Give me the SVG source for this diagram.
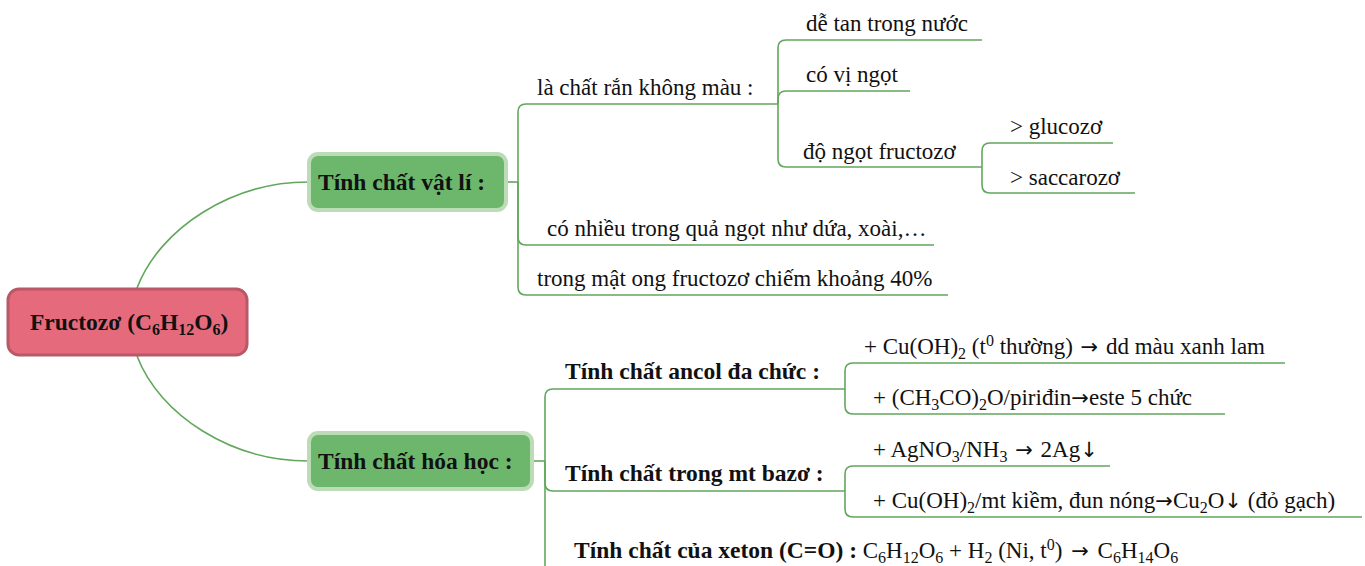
<svg xmlns="http://www.w3.org/2000/svg" width="1365" height="566" viewBox="0 0 1365 566">
  <style>
    .t { font-family: "Liberation Serif", "Times New Roman", serif; font-size: 23px; fill: #111; }
    .b { font-weight: bold; font-size: 23.5px; }
    .s { font-size: 16px; }
    .a { font-family: "DejaVu Sans", sans-serif; font-size: 21px; }
    .link { fill: none; stroke: #62a75c; stroke-width: 1.6; }
  </style>
  <rect width="1365" height="566" fill="#ffffff"/>

  <!-- connectors -->
  <g id="connectors" class="link">
    <!-- root to main topics -->
    <path d="M137,288 C160,228 232,182 308,182"/>
    <path d="M137,356 C160,416 232,461 308,461"/>
    <!-- physical properties -->
    <path d="M507,182 H518"/>
    <path d="M518,182 V112 Q518,104 526,104 H778"/>
    <path d="M518,182 V237 Q518,245 526,245 H934"/>
    <path d="M518,182 V287 Q518,295 526,295 H948"/>
    <!-- colourless solid -->
    <path d="M778,104 V48 Q778,40 786,40 H982"/>
    <path d="M778,104 V99 Q778,91 786,91 H910"/>
    <path d="M778,104 V159 Q778,167 786,167 H982"/>
    <!-- sweetness -->
    <path d="M982,167 V151 Q982,143 990,143 H1113"/>
    <path d="M982,167 V185 Q982,193 990,193 H1135"/>
    <!-- chemical properties -->
    <path d="M533,461 H545"/>
    <path d="M545,461 V397 Q545,389 553,389 H845"/>
    <path d="M545,461 V483 Q545,491 553,491 H845"/>
    <path d="M545,461 V580"/>
    <!-- polyol -->
    <path d="M845,389 V371 Q845,363 853,363 H1285"/>
    <path d="M845,389 V406 Q845,414 853,414 H1225"/>
    <!-- basic medium -->
    <path d="M845,491 V474 Q845,466 853,466 H1110"/>
    <path d="M845,491 V509 Q845,517 853,517 H1362"/>
  </g>

  <!-- root -->
  <g id="root">
    <rect x="8" y="289" width="239" height="66" rx="11" fill="#e56b7c" stroke="#b85868" stroke-width="3"/>
    <text class="t b" x="30" y="330">Fructozơ (C<tspan class="s" dy="5">6</tspan><tspan dy="-5">H</tspan><tspan class="s" dy="5">12</tspan><tspan dy="-5">O</tspan><tspan class="s" dy="5">6</tspan><tspan dy="-5">)</tspan></text>
  </g>

  <!-- main topics -->
  <g id="physical">
    <rect x="309" y="154" width="197" height="56" rx="9" fill="#6cb76c" stroke="#bcdcb8" stroke-width="4"/>
    <text class="t b" x="318" y="190">Tính chất vật lí :</text>
  </g>
  <g id="chemical">
    <rect x="309" y="433" width="223" height="56" rx="9" fill="#6cb76c" stroke="#bcdcb8" stroke-width="4"/>
    <text class="t b" x="318" y="469">Tính chất hóa học :</text>
  </g>

  <!-- physical properties -->
  <g id="solid"><text class="t" x="537" y="95">là chất rắn không màu :</text></g>
  <g id="soluble"><text class="t" x="806" y="31">dễ tan trong nước</text></g>
  <g id="sweet"><text class="t" x="806" y="82">có vị ngọt</text></g>
  <g id="sweetness"><text class="t" x="803" y="159">độ ngọt fructozơ</text></g>
  <g id="gt-glucose"><text class="t" x="1010" y="134">&gt; glucozơ</text></g>
  <g id="gt-sucrose"><text class="t" x="1010" y="185">&gt; saccarozơ</text></g>
  <g id="fruits"><text class="t" x="547" y="236">có nhiều trong quả ngọt như dứa, xoài,…</text></g>
  <g id="honey"><text class="t" x="537" y="286">trong mật ong fructozơ chiếm khoảng 40%</text></g>

  <!-- chemical properties -->
  <g id="polyol"><text class="t b" x="565" y="379">Tính chất ancol đa chức :</text></g>
  <g id="cuoh2-cold"><text class="t" x="864" y="354">+ Cu(OH)<tspan class="s" dy="5">2</tspan><tspan dy="-5"> (t</tspan><tspan class="s" dy="-8">0</tspan><tspan dy="8"> thường) </tspan><tspan class="a" dx="2">→</tspan><tspan dx="2"> dd màu xanh lam</tspan></text></g>
  <g id="acetylation"><text class="t" x="873" y="405">+ (CH<tspan class="s" dy="5">3</tspan><tspan dy="-5">CO)</tspan><tspan class="s" dy="5">2</tspan><tspan dy="-5">O/piriđin</tspan><tspan class="a">→</tspan>este 5 chức</text></g>
  <g id="basic"><text class="t b" x="565" y="481">Tính chất trong mt bazơ :</text></g>
  <g id="silver"><text class="t" x="873" y="457">+ AgNO<tspan class="s" dy="5">3</tspan><tspan dy="-5">/NH</tspan><tspan class="s" dy="5">3</tspan><tspan dy="-5"> </tspan><tspan class="a" dx="2">→</tspan><tspan dx="2"> 2Ag</tspan><tspan class="a">↓</tspan></text></g>
  <g id="cuoh2-hot"><text class="t" x="873" y="508">+ Cu(OH)<tspan class="s" dy="5">2</tspan><tspan dy="-5">/mt kiềm, đun nóng</tspan><tspan class="a">→</tspan>Cu<tspan class="s" dy="5">2</tspan><tspan dy="-5">O</tspan><tspan class="a">↓</tspan> (đỏ gạch)</text></g>
  <g id="ketone"><text class="t" x="574" y="558"><tspan class="b">Tính chất của xeton (C=O) :</tspan> C<tspan class="s" dy="5">6</tspan><tspan dy="-5">H</tspan><tspan class="s" dy="5">12</tspan><tspan dy="-5">O</tspan><tspan class="s" dy="5">6</tspan><tspan dy="-5"> + H</tspan><tspan class="s" dy="5">2</tspan><tspan dy="-5"> (Ni, t</tspan><tspan class="s" dy="-8">0</tspan><tspan dy="8">) </tspan><tspan class="a" dx="3">→</tspan><tspan dx="3"> C</tspan><tspan class="s" dy="5">6</tspan><tspan dy="-5">H</tspan><tspan class="s" dy="5">14</tspan><tspan dy="-5">O</tspan><tspan class="s" dy="5">6</tspan></text></g>
</svg>
